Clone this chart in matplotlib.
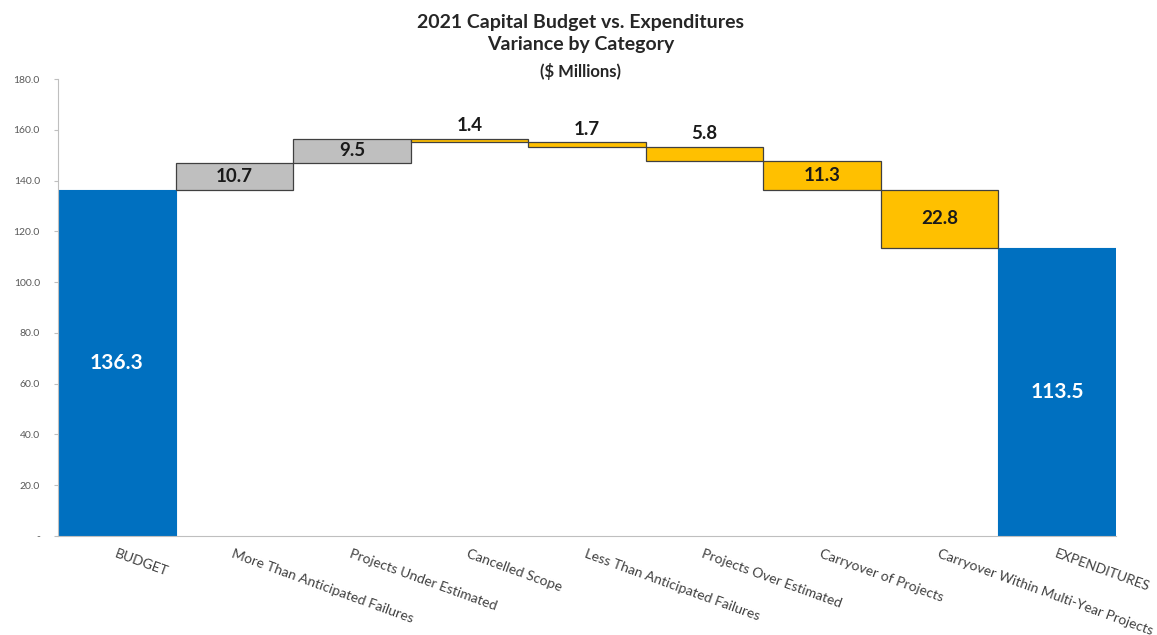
import numpy as np
import matplotlib.pyplot as plt

plt.rcParams['font.family'] = ['Lato', 'DejaVu Sans']

categories = ["BUDGET", "More Than Anticipated Failures", "Projects Under Estimated",
              "Cancelled Scope", "Less Than Anticipated Failures", "Projects Over Estimated",
              "Carryover of Projects", "Carryover Within Multi-Year Projects", "EXPENDITURES"]
budget = 136.3
changes = [10.7, 9.5, -1.4, -1.7, -5.8, -11.3, -22.8]
expenditures = 113.5
yticks = [0, 20, 40, 60, 80, 100, 120, 140, 160, 180]

BLUE = "#0070C0"
GRAY = "#BFBFBF"
ORANGE = "#FFC000"

fig = plt.figure(figsize=(11.57, 6.35), dpi=100)
ax = fig.add_axes([0.0501, 0.156, 0.9145, 0.7195])

x = np.arange(len(categories))

# totals
ax.bar(x[0], budget, width=1.0, color=BLUE, edgecolor=BLUE, linewidth=0.8)
ax.bar(x[-1], expenditures, width=1.0, color=BLUE, edgecolor=BLUE, linewidth=0.8)
ax.text(x[0], budget / 2, f"{budget:.1f}", ha="center", va="center",
        color="white", fontsize=15, fontweight="bold")
ax.text(x[-1], expenditures / 2, f"{expenditures:.1f}", ha="center", va="center",
        color="white", fontsize=15, fontweight="bold")

# floating steps
level = budget
for i, c in enumerate(changes):
    start = level
    level = level + c
    bottom = min(start, level)
    h = abs(c)
    col = GRAY if c > 0 else ORANGE
    ax.bar(x[i + 1], h, bottom=bottom, width=1.0, color=col,
           edgecolor="#404040", linewidth=0.9)
    if h > 8:
        ax.text(x[i + 1], bottom + h / 2, f"{h:.1f}", ha="center", va="center",
                color="#1a1a1a", fontsize=13.5, fontweight="bold")
    else:
        ax.text(x[i + 1], bottom + h + 1.8, f"{h:.1f}", ha="center", va="bottom",
                color="#1a1a1a", fontsize=13.5, fontweight="bold")

ax.set_xlim(-0.5, len(categories) - 0.5)
ax.set_ylim(0, 180)
ax.set_yticks(yticks)
ax.set_yticklabels(["-" if v == 0 else f"{v:.1f}" for v in yticks],
                   fontsize=7.5, color="#595959")
ax.tick_params(axis="y", length=3, color="#BFBFBF", pad=10)

ax.set_xticks(x)
ax.set_xticklabels([])
ax.tick_params(axis="x", length=0)
for xi, lab in zip(x, categories):
    ax.text(xi, -4.5, lab, rotation=-20, rotation_mode="anchor",
            ha="left", va="top", fontsize=10, color="#404040")

for s in ["top", "right"]:
    ax.spines[s].set_visible(False)
ax.spines["left"].set_color("#BFBFBF")
ax.spines["bottom"].set_color("#BFBFBF")

fig.text(0.502, 0.965, "2021 Capital Budget vs. Expenditures", ha="center", va="center",
         fontsize=14, fontweight="bold", color="#262626")
fig.text(0.502, 0.93, "Variance by Category", ha="center", va="center",
         fontsize=14, fontweight="bold", color="#262626")
fig.text(0.502, 0.888, "($ Millions)", ha="center", va="center",
         fontsize=12, fontweight="bold", color="#262626")

fig.savefig("out.png", dpi=100)
